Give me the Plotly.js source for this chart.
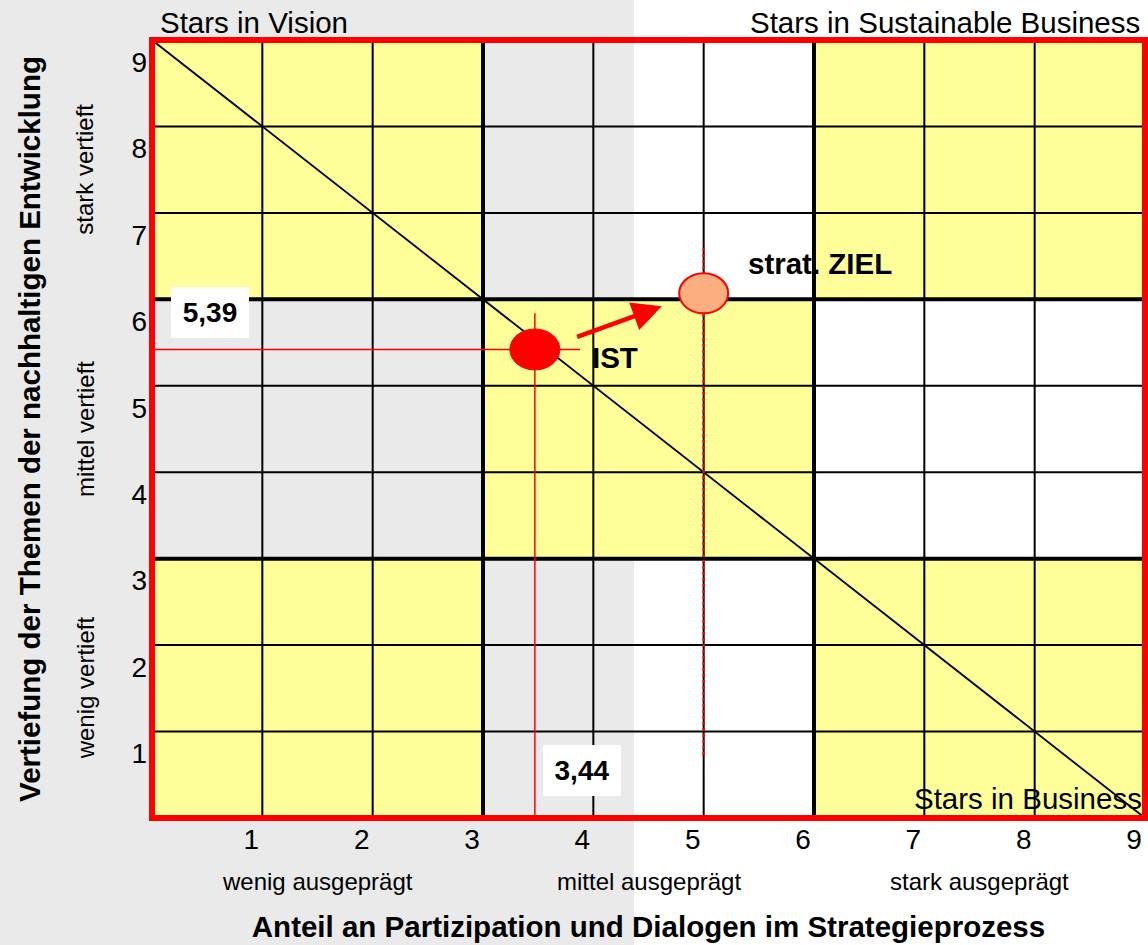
<!DOCTYPE html>
<html>
<head>
<meta charset="utf-8">
<script src="https://cdn.plot.ly/plotly-3.0.1.min.js"></script>
<style>html,body{margin:0;padding:0;background:#fff;}#chart{width:1148px;height:945px;}</style>
</head>
<body>
<div id="chart"></div>
<script>
// ---- data ----
const xTickVals = [1, 2, 3, 4, 5, 6, 7, 8, 9];
const xTickText = ['1', '2', '3', '4', '5', '6', '7', '8', '9'];
const yTickVals = [1, 2, 3, 4, 5, 6, 7, 8, 9];
const yTickText = ['1', '2', '3', '4', '5', '6', '7', '8', '9'];
const blockEdges = [0, 3, 6, 9];
const yellowBlocks = [[1, 0, 1], [0, 1, 0], [1, 0, 1]];
const gridLines = [1, 2, 3, 4, 5, 6, 7, 8];
const diagX = [0, 9];
const diagY = [9, 0];
const pointNames = ['IST', 'strat. ZIEL'];
const pointX = [3.47, 5.0];
const pointY = [5.42, 6.07];
const istValueLabels = ['3,44', '5,39'];
const xLevelLabels = ['wenig ausgeprägt', 'mittel ausgeprägt', 'stark ausgeprägt'];
const yLevelLabels = ['wenig vertieft', 'mittel vertieft', 'stark vertieft'];
const levelCenters = [1.5, 4.5, 7.5];
const cornerLabels = ['Stars in Vision', 'Stars in Sustainable Business', 'Stars in Business'];

// ---- layout constants ----
const FONT = 'Liberation Sans, Arial, Helvetica, sans-serif';
const BIG = 29.5;
const SUB = 24;
const W = 1148, H = 945;
const M = {l: 152, r: 3, t: 40, b: 127};
const pw = W - M.l - M.r, ph = H - M.t - M.b;

const traces = [
  {
    type: 'heatmap', x: blockEdges, y: blockEdges, z: yellowBlocks,
    colorscale: [[0, 'rgba(0,0,0,0)'], [1, '#FFFF99']],
    zmin: 0, zmax: 1, showscale: false, hoverinfo: 'skip'
  },
  {
    type: 'scatter', mode: 'lines', x: diagX, y: diagY,
    line: {color: '#000', width: 1.8}, hoverinfo: 'skip'
  }
];

const shapes = [];
// gray background on the left
shapes.push({type: 'rect', xref: 'paper', yref: 'paper', layer: 'below',
  x0: -M.l / pw, x1: (634 - M.l) / pw, y0: -M.b / ph, y1: 1 + M.t / ph,
  fillcolor: '#EAEAEA', line: {width: 0}});
// grid lines
gridLines.forEach(v => {
  const w = (v % 3 === 0) ? 4 : 2;
  shapes.push({type: 'line', xref: 'x', yref: 'y', x0: v, x1: v, y0: 0, y1: 9, line: {color: '#000', width: w}});
  shapes.push({type: 'line', xref: 'x', yref: 'y', x0: 0, x1: 9, y0: v, y1: v, line: {color: '#000', width: w}});
});
// IST reference lines
shapes.push({type: 'line', xref: 'x', yref: 'y', x0: 0, x1: pointX[0] + 0.41, y0: pointY[0], y1: pointY[0], line: {color: '#FF0000', width: 1.5}});
shapes.push({type: 'line', xref: 'x', yref: 'y', x0: pointX[0], x1: pointX[0], y0: 0, y1: pointY[0] + 0.42, line: {color: '#FF0000', width: 1.5}});
// ZIEL dotted line
shapes.push({type: 'line', xref: 'x', yref: 'y', x0: pointX[1], x1: pointX[1], y0: 0.73, y1: pointY[1] + 0.56, line: {color: '#FF0000', width: 2.5, dash: 'dot'}});
// ellipses
shapes.push({type: 'circle', xref: 'x', yref: 'y', xsizemode: 'pixel', ysizemode: 'pixel',
  xanchor: pointX[0], yanchor: pointY[0], x0: -25, x1: 25, y0: -20.5, y1: 20.5,
  fillcolor: '#FF0000', line: {color: '#FF0000', width: 1}});
shapes.push({type: 'circle', xref: 'x', yref: 'y', xsizemode: 'pixel', ysizemode: 'pixel',
  xanchor: pointX[1], yanchor: pointY[1], x0: -24.5, x1: 24.5, y0: -20, y1: 20,
  fillcolor: '#FBAE80', line: {color: '#FF0000', width: 2}});
// red frame
shapes.push({type: 'rect', xref: 'paper', yref: 'paper', x0: 0, x1: 1, y0: 0, y1: 1,
  line: {color: '#FF0000', width: 6}, fillcolor: 'rgba(0,0,0,0)'});

const annotations = [];
// corner labels
annotations.push({xref: 'paper', yref: 'paper', x: 6 / pw, y: 1 + 18 / ph, xanchor: 'left', yanchor: 'middle',
  text: cornerLabels[0], showarrow: false, font: {family: FONT, size: BIG, color: '#000'}});
annotations.push({xref: 'paper', yref: 'paper', x: (1142 - M.l) / pw, y: 1 + 18 / ph, xanchor: 'right', yanchor: 'middle',
  text: cornerLabels[1], showarrow: false, font: {family: FONT, size: BIG, color: '#000'}});
annotations.push({xref: 'paper', yref: 'paper', x: (1144 - M.l) / pw, y: 20 / ph, xanchor: 'right', yanchor: 'middle',
  text: cornerLabels[2], showarrow: false, font: {family: FONT, size: BIG, color: '#000'}});
// level labels
levelCenters.forEach((c, i) => {
  annotations.push({xref: 'x', yref: 'paper', x: c, y: -63 / ph, xanchor: 'center', yanchor: 'middle',
    text: xLevelLabels[i], showarrow: false, font: {family: FONT, size: SUB, color: '#000'}});
  annotations.push({xref: 'paper', yref: 'y', x: -67 / pw, y: c, xanchor: 'center', yanchor: 'middle', textangle: -90,
    text: yLevelLabels[i], showarrow: false, font: {family: FONT, size: SUB, color: '#000'}});
});
// point labels
annotations.push({xref: 'x', yref: 'y', x: pointX[0] + 0.50, y: pointY[0] - 0.09, xanchor: 'left', yanchor: 'middle',
  text: '<b>' + pointNames[0] + '</b>', showarrow: false, font: {family: FONT, size: BIG, color: '#000'}});
annotations.push({xref: 'x', yref: 'y', x: pointX[1] + 0.38, y: pointY[1] + 0.35, xanchor: 'left', yanchor: 'middle',
  text: '<b>' + pointNames[1] + '</b>', showarrow: false, font: {family: FONT, size: BIG, color: '#000'}});
// value boxes
annotations.push({xref: 'x', yref: 'y', x: pointX[0] + 0.43, y: 0.55, xanchor: 'center', yanchor: 'middle',
  text: '<b>' + istValueLabels[0] + '</b>', showarrow: false, bgcolor: '#FFFFFF', borderpad: 7, borderwidth: 0,
  width: 64, height: 37, font: {family: FONT, size: 28, color: '#000'}});
annotations.push({xref: 'x', yref: 'y', x: 0.526, y: pointY[0] + 0.43, xanchor: 'center', yanchor: 'middle',
  text: '<b>' + istValueLabels[1] + '</b>', showarrow: false, bgcolor: '#FFFFFF', borderpad: 7, borderwidth: 0,
  width: 64, height: 37, font: {family: FONT, size: 28, color: '#000'}});
// arrow IST -> ZIEL
annotations.push({xref: 'x', yref: 'y', axref: 'x', ayref: 'y',
  x: pointX[0] + 1.15, y: pointY[0] + 0.50, ax: pointX[0] + 0.37, ay: pointY[0] + 0.14,
  text: '', showarrow: true, arrowcolor: '#FF0000', arrowwidth: 4.5, arrowhead: 2, arrowsize: 1.3, standoff: 0});

const layout = {
  width: W, height: H,
  margin: M,
  paper_bgcolor: '#FFFFFF',
  plot_bgcolor: 'rgba(0,0,0,0)',
  showlegend: false,
  hovermode: false,
  font: {family: FONT, color: '#000'},
  xaxis: {
    range: [0, 9], tickvals: xTickVals, ticktext: xTickText, showgrid: false, zeroline: false, showline: false,
    ticks: '', tickfont: {family: FONT, size: 28, color: '#000'}, ticklabelshift: -11, ticklabelstandoff: 2,
    fixedrange: true,
    title: {text: '<b>Anteil an Partizipation und Dialogen im Strategieprozess</b>', font: {family: FONT, size: BIG, color: '#000'}, standoff: 62}
  },
  yaxis: {
    range: [0, 9], tickvals: yTickVals, ticktext: yTickText, showgrid: false, zeroline: false, showline: false,
    ticks: '', tickfont: {family: FONT, size: 28, color: '#000'}, ticklabelshift: 22, ticklabelstandoff: 4,
    fixedrange: true,
    title: {text: '<b>Vertiefung der Themen der nachhaltigen Entwicklung</b>', font: {family: FONT, size: BIG, color: '#000'}, standoff: 82}
  },
  shapes: shapes,
  annotations: annotations
};

Plotly.newPlot('chart', traces, layout, {staticPlot: true, displayModeBar: false});
</script>
</body>
</html>
